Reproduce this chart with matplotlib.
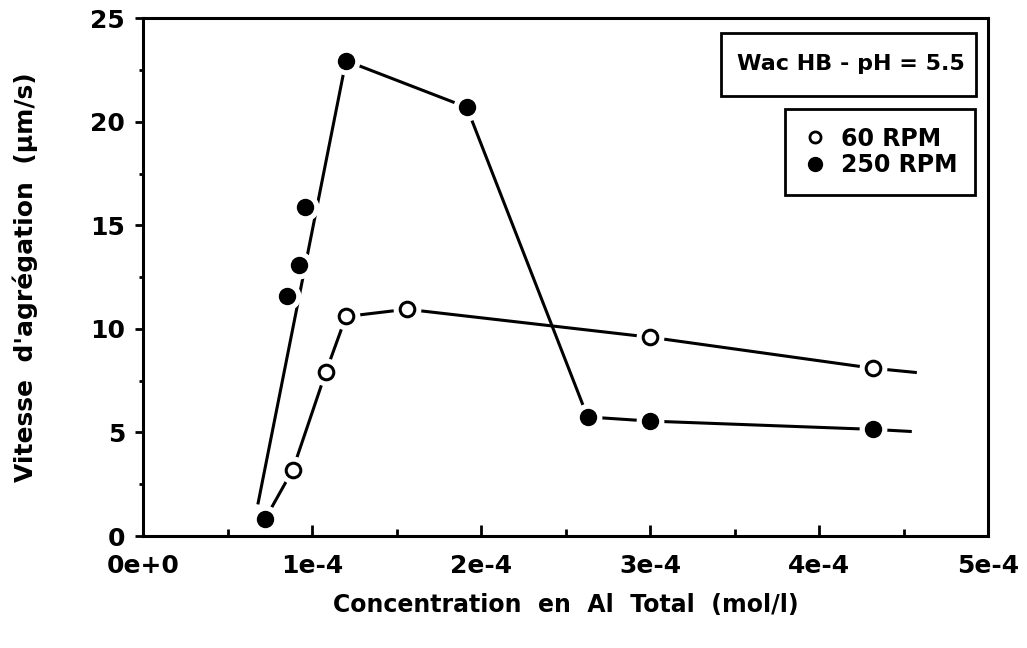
from matplotlib import pyplot as plt
from matplotlib.patches import Rectangle
from matplotlib.ticker import MultipleLocator

plt.rcParams['font.family'] = ['DejaVu Sans']
plt.rcParams['font.weight'] = 'bold'

# measured points (Al total in mol/l, aggregation rate in um/s)
x_60 = [8.85e-5, 1.08e-4, 1.20e-4, 1.56e-4, 3.0e-4, 4.32e-4]
y_60 = [3.2, 7.9, 10.6, 10.95, 9.6, 8.1]
x_250 = [7.2e-5, 8.5e-5, 9.2e-5, 9.6e-5, 1.20e-4, 1.915e-4, 2.63e-4, 3.0e-4, 4.32e-4]
y_250 = [0.8, 11.6, 13.1, 15.9, 22.95, 20.7, 5.75, 5.55, 5.15]

# hand drawn trend lines
line_60_x = [7.2e-5, 8.85e-5, 1.08e-4, 1.20e-4, 1.56e-4, 3.0e-4, 4.32e-4, 4.57e-4]
line_60_y = [0.8, 3.2, 7.9, 10.6, 10.95, 9.6, 8.1, 7.9]
line_250_x = [6.8e-5, 1.20e-4, 1.915e-4, 2.63e-4, 3.0e-4, 4.32e-4, 4.54e-4]
line_250_y = [1.6, 22.95, 20.7, 5.75, 5.55, 5.15, 5.05]

xticks = [0, 1e-4, 2e-4, 3e-4, 4e-4, 5e-4]
xticklabels = ['0e+0', '1e-4', '2e-4', '3e-4', '4e-4', '5e-4']

fig = plt.figure(figsize=(10.27, 6.48), dpi=100)
ax = fig.add_axes([0.1395, 0.1728, 0.8225, 0.799])

ax.plot(line_250_x, line_250_y, color='black', lw=2.2, zorder=2)
ax.plot(line_60_x, line_60_y, color='black', lw=2.2, zorder=2)

# white halo so the lines stop short of the markers
ax.plot(x_250, y_250, 'o', ms=19, color='white', mec='white', ls='none', zorder=3)
ax.plot(x_60, y_60, 'o', ms=19, color='white', mec='white', ls='none', zorder=3)

ax.plot(x_60, y_60, 'o', ms=10.5, mfc='white', mec='black', mew=2.2, ls='none', zorder=4)
ax.plot(x_250, y_250, 'o', ms=11.5, color='black', ls='none', zorder=4)

ax.set_xlim(0, 5e-4)
ax.set_ylim(0, 25)
ax.set_xticks(xticks)
ax.set_xticklabels(xticklabels)
ax.xaxis.set_minor_locator(MultipleLocator(5e-5))
ax.yaxis.set_major_locator(MultipleLocator(5))
ax.yaxis.set_minor_locator(MultipleLocator(2.5))

ax.tick_params(axis='x', which='major', direction='in', length=8, width=2, pad=13, labelsize=18)
ax.tick_params(axis='x', which='minor', direction='in', length=5, width=2)
ax.tick_params(axis='y', which='major', direction='out', length=6, width=2, pad=7, labelsize=18)
ax.tick_params(axis='y', which='minor', direction='out', length=3, width=2)
for s in ax.spines.values():
    s.set_linewidth(2.2)

ax.set_xlabel('Concentration  en  Al  Total  (mol/l)', fontsize=17, fontweight='bold')
ax.set_ylabel("Vitesse  d'agrégation  (\u00b5m/s)", fontsize=18, fontweight='bold')
ax.xaxis.set_label_coords(0.5, -0.11)
ax.yaxis.set_label_coords(-0.125, 0.5)

# title box
ax.add_patch(Rectangle((0.684, 0.85), 0.302, 0.122, transform=ax.transAxes,
                       fc='white', ec='black', lw=2, zorder=5, clip_on=False))
ax.text(0.9727, 0.912, 'Wac HB - pH = 5.5', transform=ax.transAxes, ha='right', va='center',
        fontsize=16, fontweight='bold', zorder=6)

h60, = ax.plot([], [], 'o', ms=8, mfc='white', mec='black', mew=2, ls='none')
h250, = ax.plot([], [], 'o', ms=10, color='black', ls='none')
leg = ax.legend([h60, h250], ['60 RPM', '250 RPM'], loc='upper right',
                bbox_to_anchor=(0.9846, 0.8248), fontsize=17, frameon=True, fancybox=False,
                framealpha=1, handletextpad=0.6, handlelength=1.0, borderpad=0.75,
                labelspacing=0.1, borderaxespad=0)
leg.get_frame().set_edgecolor('black')
leg.get_frame().set_linewidth(2)
for t in leg.get_texts():
    t.set_fontweight('bold')

fig.savefig('out.png', dpi=100)
